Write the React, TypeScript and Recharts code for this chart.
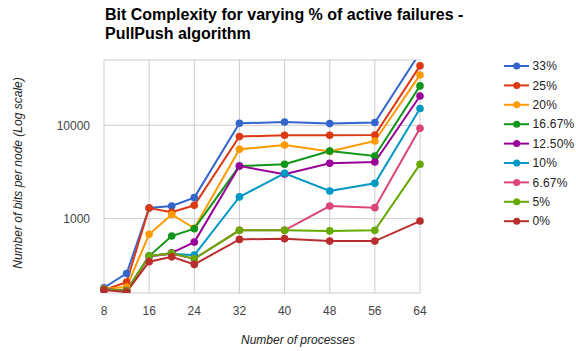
import { CartesianGrid, Legend, Line, LineChart, XAxis, YAxis } from "recharts";

// number of processes sampled
const processes = [8, 12, 16, 20, 24, 32, 40, 48, 56, 64];
const xTicks = [8, 16, 24, 32, 40, 48, 56, 64];
const yTicks = [1000, 10000];

// bits per node, one list per failure rate
const fail33 = [182, 259, 1300, 1365, 1680, 10500, 10830, 10420, 10690, 60000];
const fail25 = [172, 209, 1300, 1170, 1390, 7570, 7820, 7820, 7870, 43300];
const fail20 = [178, 185, 680, 1110, 790, 5530, 6150, 5250, 6790, 34600];
const fail1667 = [175, 170, 398, 652, 782, 3660, 3820, 5310, 4690, 26400];
const fail1250 = [175, 168, 395, 430, 561, 3660, 3000, 3920, 4040, 20600];
const fail10 = [175, 168, 395, 420, 407, 1710, 3060, 1980, 2390, 15100];
const fail667 = [175, 168, 395, 420, 372, 750, 750, 1365, 1313, 9290];
const fail5 = [175, 168, 400, 425, 372, 750, 750, 740, 750, 3820];
const fail0 = [172, 164, 346, 390, 324, 600, 611, 575, 575, 943];

const SERIES = [
  { key: "s33", label: "33%", values: fail33, color: "#3366cc" },
  { key: "s25", label: "25%", values: fail25, color: "#dc3912" },
  { key: "s20", label: "20%", values: fail20, color: "#ff9900" },
  { key: "s1667", label: "16.67%", values: fail1667, color: "#109618" },
  { key: "s1250", label: "12.50%", values: fail1250, color: "#990099" },
  { key: "s10", label: "10%", values: fail10, color: "#0099c6" },
  { key: "s667", label: "6.67%", values: fail667, color: "#dd4477" },
  { key: "s5", label: "5%", values: fail5, color: "#66aa00" },
  { key: "s0", label: "0%", values: fail0, color: "#b82e2e" },
];

const data = processes.map((p, i) => {
  const row: Record<string, number> = { processes: p };
  SERIES.forEach((s) => {
    row[s.key] = s.values[i];
  });
  return row;
});

const FONT = "'Liberation Sans', Arial, sans-serif";

// keep legend entries in series order (Recharts sorts them by name otherwise)
function LegendList({ payload }: any) {
  const order = SERIES.map((s) => s.label);
  const items = [...(payload || [])].sort(
    (a: any, b: any) => order.indexOf(a.value) - order.indexOf(b.value)
  );
  return (
    <svg width={72} height={items.length * 19.4 + 4}>
      {items.map((entry: any, i: number) => (
        <g key={entry.value} transform={`translate(0, ${i * 19.4})`}>
          <line x1={0} x2={25} y1={9} y2={9} stroke={entry.color} strokeWidth={2} />
          <circle cx={12.7} cy={9} r={3.5} fill={entry.color} />
          <text x={28.5} y={13.2} fontSize={12} letterSpacing={0.2} fill="#222" fontFamily={FONT}>
            {entry.value}
          </text>
        </g>
      ))}
    </svg>
  );
}

export default function App() {
  return (
    <div
      style={{
        position: "absolute",
        left: 0,
        top: 0,
        width: 576,
        height: 351,
        background: "#fff",
        fontFamily: FONT,
      }}
    >
      <LineChart
        width={576}
        height={351}
        data={data}
        margin={{ top: 60, right: 84, bottom: 28, left: 44 }}
      >
        <CartesianGrid stroke="#cccccc" strokeWidth={1} />
        <XAxis
          dataKey="processes"
          type="number"
          domain={[8, 64]}
          ticks={xTicks}
          axisLine={false}
          tickLine={false}
          tickMargin={7}
          height={30}
          tick={{ fontSize: 12, fill: "#444", fontFamily: FONT }}
        />
        <YAxis
          scale="log"
          domain={[160, 50000]}
          allowDataOverflow
          ticks={yTicks}
          axisLine={false}
          tickLine={false}
          tickMargin={8}
          width={60}
          tick={{ fontSize: 12, fill: "#444", fontFamily: FONT }}
        />
        <Legend
          layout="vertical"
          align="right"
          verticalAlign="top"
          content={<LegendList />}
          wrapperStyle={{ left: 504, top: 56.7, width: 72 }}
        />
        {SERIES.map((s) => (
          <Line
            key={s.key}
            dataKey={s.key}
            name={s.label}
            stroke={s.color}
            strokeWidth={2}
            dot={{ r: 3.8, fill: s.color, stroke: s.color, strokeWidth: 0 }}
            activeDot={false}
            isAnimationActive={false}
          />
        ))}
      </LineChart>
      <svg
        width={576}
        height={351}
        style={{ position: "absolute", left: 0, top: 0, pointerEvents: "none" }}
      >
        <text x={105} y={20} fontSize={16} fontWeight="bold" fill="#000" fontFamily={FONT}>
          Bit Complexity for varying % of active failures -
        </text>
        <text x={105} y={38.5} fontSize={16} fontWeight="bold" fill="#000" fontFamily={FONT}>
          PullPush algorithm
        </text>
        <text
          transform="translate(22, 173) rotate(-90)"
          textAnchor="middle"
          fontSize={12}
          fontStyle="italic"
          fill="#222"
          fontFamily={FONT}
        >
          Number of bits per node (Log scale)
        </text>
        <text
          x={298}
          y={344.3}
          textAnchor="middle"
          fontSize={12}
          fontStyle="italic"
          fill="#222"
          fontFamily={FONT}
        >
          Number of processes
        </text>
      </svg>
    </div>
  );
}
